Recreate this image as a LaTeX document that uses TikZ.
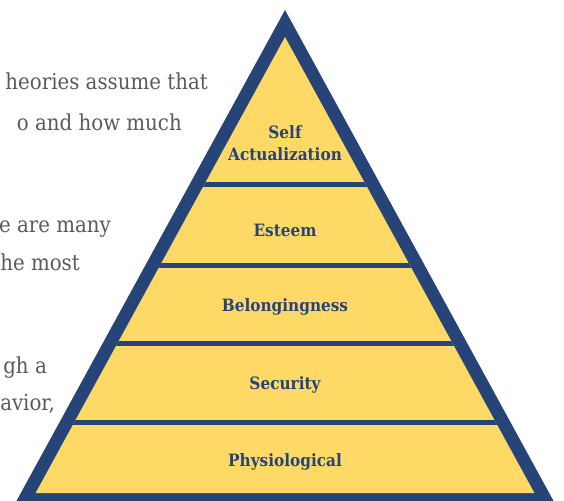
\documentclass[tikz,border=0pt]{standalone}
\usepackage{fontspec}
\setmainfont{DejaVu Serif Condensed}
\usetikzlibrary{positioning}

\definecolor{pyrblue}{HTML}{264478}
\definecolor{pyryellow}{HTML}{FFD966}
\definecolor{bodygray}{HTML}{5A5A5A}

\begin{document}
\begin{tikzpicture}[x=1pt, y=-1pt,
  level/.style={font=\bfseries\fontsize{17}{22}\selectfont, text=pyrblue, align=center, anchor=base, inner sep=0pt},
  body/.style={font=\fontsize{22}{26}\selectfont, text=bodygray, anchor=base east, inner sep=0pt}]

  \useasboundingbox (0,0) rectangle (564,500);

  % text running beside the pyramid
  \node[body] (p1a) at (208,90)  {heories assume that};
  \node[body] (p1b) at (182,130) {o and how much};
  \node[body] (p2a) at (111,232) {e are many};
  \node[body] (p2b) at (80,270)  {he most};
  \node[body] (p3a) at (47,373)  {gh a};
  \node[body] (p3b) at (55,410)  {avior,};

  % pyramid
  \coordinate (apex) at (285,10);
  \coordinate (inapex) at (285,37);
  \fill[pyrblue] (apex) -- (556.3,506) -- (13.7,506) -- cycle;
  \fill[pyryellow] (inapex) -- (534.4,493) -- (35.6,493) -- cycle;

  \begin{scope}
    \clip (inapex) -- (534.4,493) -- (35.6,493) -- cycle;
    \foreach \y in {184,265,343.5,422.5}
      \draw[pyrblue, line width=5pt] (0,\y) -- (564,\y);
  \end{scope}

  \node[level] (self)   at (285,160) {Self\\Actualization};
  \node[level] (esteem) at (285,236) {Esteem};
  \node[level] (belong) at (285,311) {Belongingness};
  \node[level] (secur)  at (285,389) {Security};
  \node[level] (physio) at (285,466) {Physiological};

\end{tikzpicture}
\end{document}
